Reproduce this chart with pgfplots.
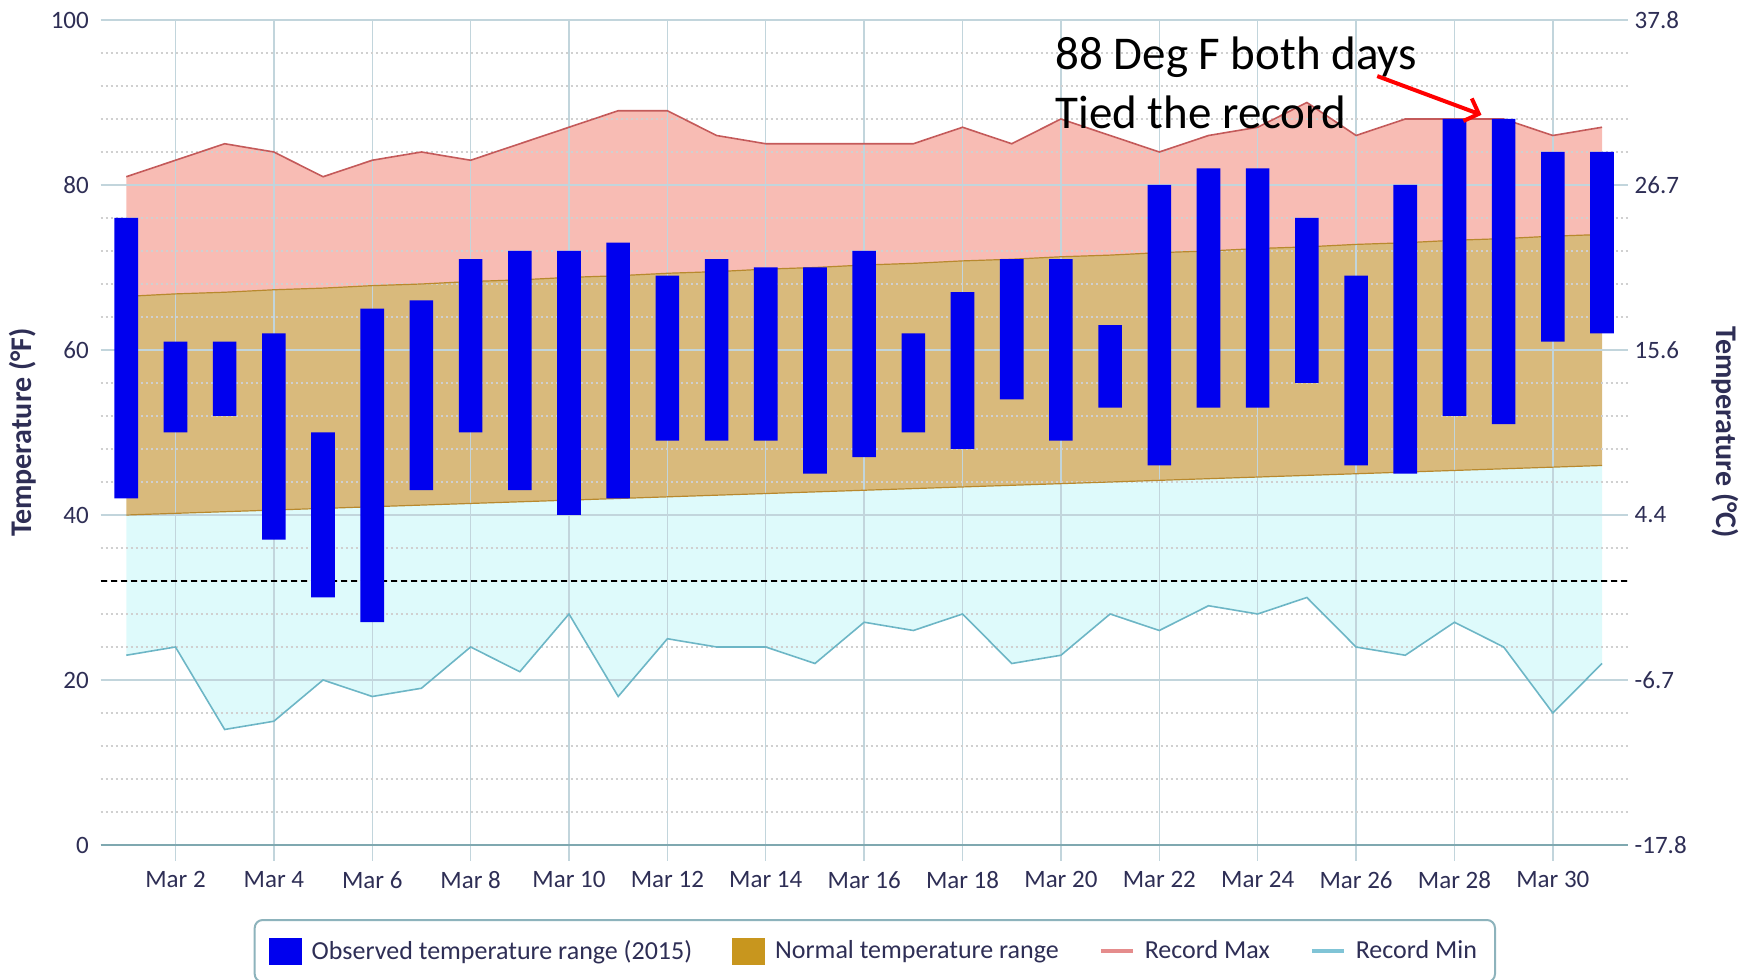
\documentclass[border=0pt]{standalone}
\usepackage{pgfplots}
\pgfplotsset{compat=1.18}
\usepackage{pgfplotstable}
\usepgfplotslibrary{fillbetween}
\usetikzlibrary{arrows.meta}
\usepackage{fontspec}
\setmainfont{Carlito}

\definecolor{obsblue}{HTML}{0000EE}
\definecolor{pinkfill}{HTML}{F8BCB4}
\definecolor{tanfill}{HTML}{D9BA7C}
\definecolor{cyanfill}{HTML}{DEFAFB}
\definecolor{rmaxline}{HTML}{C45A5A}
\definecolor{rminline}{HTML}{6DB6C6}
\definecolor{normedge}{HTML}{B8892E}
\definecolor{normleg}{HTML}{C8961E}
\definecolor{gridc}{HTML}{C2D5DC}
\definecolor{minorgrid}{HTML}{D0D0D0}
\definecolor{txt}{HTML}{2E2E55}
\definecolor{zeroline}{HTML}{7FA8B0}
\definecolor{legmax}{HTML}{E58C8C}
\definecolor{legmin}{HTML}{80C4D6}
\definecolor{legborder}{HTML}{8DB3BC}

\pgfplotstableread{
d lo hi nlo nhi rmin rmax
1 42 76 40.0 66.5 23 81
2 50 61 40.2 66.8 24 83
3 52 61 40.4 67.0 14 85
4 37 62 40.6 67.3 15 84
5 30 50 40.8 67.5 20 81
6 27 65 41.0 67.8 18 83
7 43 66 41.2 68.0 19 84
8 50 71 41.4 68.3 24 83
9 43 72 41.6 68.5 21 85
10 40 72 41.8 68.8 28 87
11 42 73 42.0 69.0 18 89
12 49 69 42.2 69.3 25 89
13 49 71 42.4 69.5 24 86
14 49 70 42.6 69.8 24 85
15 45 70 42.8 70.0 22 85
16 47 72 43.0 70.3 27 85
17 50 62 43.2 70.5 26 85
18 48 67 43.4 70.8 28 87
19 54 71 43.6 71.0 22 85
20 49 71 43.8 71.3 23 88
21 53 63 44.0 71.5 28 86
22 46 80 44.2 71.8 26 84
23 53 82 44.4 72.0 29 86
24 53 82 44.6 72.3 28 87
25 56 76 44.8 72.5 30 90
26 46 69 45.0 72.8 24 86
27 45 80 45.2 73.0 23 88
28 52 88 45.4 73.3 27 88
29 51 88 45.6 73.5 24 88
30 61 84 45.8 73.8 16 86
31 62 84 46.0 74.0 22 87
}\tempdata

\begin{document}
\begin{tikzpicture}
\begin{axis}[
  set layers,
  scale only axis,
  width=763.45pt, height=412.5pt,
  xmin=0.48, xmax=31.52,
  ymin=0, ymax=100,
  xtick={2,4,...,30},
  xticklabels={Mar 2,Mar 4,Mar 6,Mar 8,Mar 10,Mar 12,Mar 14,Mar 16,Mar 18,Mar 20,Mar 22,Mar 24,Mar 26,Mar 28,Mar 30},
  ytick={0,20,...,100},
  minor y tick num=4,
  ymajorgrids, yminorgrids, xmajorgrids,
  major grid style={gridc, line width=0.7pt},
  minor grid style={minorgrid, dash pattern=on 1pt off 1.5pt, line width=0.6pt},
  axis x line*=bottom,
  axis y line*=left,
  x axis line style={zeroline, line width=1.2pt, -},
  y axis line style={draw=none},
  tick align=outside,
  xtick style={gridc, line width=0.7pt},
  major tick length=8pt,
  ytick style={draw=none},
  minor tick length=0pt,
  extra y ticks={32},
  extra y tick labels={},
  extra y tick style={grid=major, major grid style={black, dash pattern=on 3pt off 2pt, line width=0.6pt}},
  /pgf/number format/assume math mode=true,
  ticklabel style={font=\fontsize{12.5}{14}\selectfont, text=txt},
  yticklabel style={xshift=5.6pt},
  xticklabel style={yshift=-1.7pt},
  ylabel={Temperature (°F)},
  ylabel style={font=\bfseries\fontsize{15}{17}\selectfont, text=txt, at={(axis description cs:0,0.5)}, anchor=center, yshift=39pt},
  legend columns=4,
  legend style={at={(0.507,-0.0897)}, anchor=north, draw=legborder, line width=1pt, rounded corners=4pt,
    font=\fontsize{13}{15}\selectfont, text=txt, inner xsep=7pt, inner ysep=8pt,
    /tikz/every even column/.append style={column sep=18pt}},
]
% lines defining the areas
\addplot[name path=rmax, rmaxline, line width=0.8pt, forget plot] table[x=d, y=rmax] {\tempdata};
\addplot[name path=nhi, normedge, line width=0.6pt, forget plot] table[x=d, y=nhi] {\tempdata};
\addplot[name path=nlo, normedge, line width=0.6pt, forget plot] table[x=d, y=nlo] {\tempdata};
\addplot[name path=rmin, rminline, line width=0.8pt, forget plot] table[x=d, y=rmin] {\tempdata};
% fills
\addplot[fill=pinkfill, draw=none, forget plot] fill between[of=rmax and nhi, on layer=axis background];
\addplot[fill=tanfill, draw=none, forget plot] fill between[of=nhi and nlo, on layer=axis background];
\addplot[fill=cyanfill, draw=none, forget plot] fill between[of=nlo and rmin, on layer=axis background];
% observed bars (floating)
\addplot[ybar, stack plots=y, bar width=11.8pt, draw=none, fill=none, forget plot] table[x=d, y=lo] {\tempdata};
\addplot[ybar, stack plots=y, bar width=11.8pt, draw=none, fill=obsblue, forget plot] table[x=d, y expr=\thisrow{hi}-\thisrow{lo}] {\tempdata};
% legend
\addlegendimage{legend image code/.code={\fill[obsblue, sharp corners] (0pt,-6.25pt) rectangle (15.5pt,6.25pt); \path (18.5pt,0pt);}}
\addlegendentry{Observed temperature range (2015)}
\addlegendimage{legend image code/.code={\fill[normleg, sharp corners] (0pt,-6.25pt) rectangle (15.5pt,6.25pt); \path (18.5pt,0pt);}}
\addlegendentry{Normal temperature range}
\addlegendimage{legend image code/.code={\draw[legmax, line width=2pt, sharp corners] (0pt,0pt) -- (16pt,0pt); \path (19.5pt,0pt);}}
\addlegendentry{Record Max}
\addlegendimage{legend image code/.code={\draw[legmin, line width=2pt, sharp corners] (0pt,0pt) -- (16pt,0pt); \path (19.5pt,0pt);}}
\addlegendentry{Record Min}
% annotation
\node[anchor=base west, inner sep=0pt, font=\fontsize{23.5}{28}\selectfont] at (axis cs:19.88,94.0) {88 Deg F both days};
\node[anchor=base west, inner sep=0pt, font=\fontsize{23.5}{28}\selectfont] at (axis cs:19.88,86.8) {Tied the record};
\draw[red, line width=2pt, -{Straight Barb[length=6pt,width=12pt]}] (axis cs:26.43,93.2) -- (axis cs:28.55,88.5);
\end{axis}
\begin{axis}[
  scale only axis,
  clip=false,
  width=763.45pt, height=412.5pt,
  xmin=0.48, xmax=31.52,
  ymin=0, ymax=100,
  axis x line=none,
  axis y line*=right,
  y axis line style={draw=none},
  ytick={0,20,...,100},
  yticklabels={-17.8,-6.7,4.4,15.6,26.7,37.8},
  ytick style={draw=none},
  ticklabel style={font=\fontsize{12.5}{14}\selectfont, text=txt},
]
\node[rotate=-90, yshift=49pt, font=\bfseries\fontsize{15}{17}\selectfont, text=txt] at (axis description cs:1,0.5) {Temperature (°C)};
\end{axis}
\pgfresetboundingbox
\useasboundingbox ([shift={(-50.35pt,-67.5pt)}]current axis.south west) rectangle ([shift={(63.2pt,10pt)}]current axis.north east);
\end{tikzpicture}
\end{document}
